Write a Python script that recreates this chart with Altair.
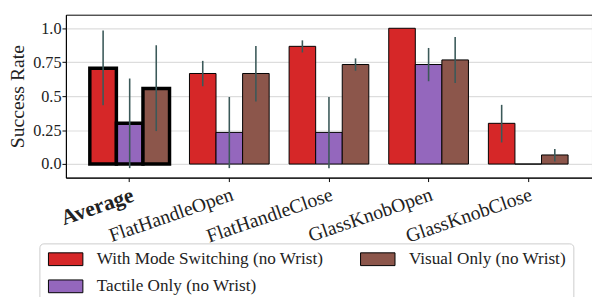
import altair as alt
import pandas as pd

categories = ["Average", "FlatHandleOpen", "FlatHandleClose", "GlassKnobOpen", "GlassKnobClose"]
conditions = ["With Mode Switching (no Wrist)", "Tactile Only (no Wrist)", "Visual Only (no Wrist)"]
colors = {"With Mode Switching (no Wrist)": "#d62728",
          "Tactile Only (no Wrist)": "#9467bd",
          "Visual Only (no Wrist)": "#8c564b"}

mode_vals = [0.706, 0.667, 0.867, 1.0, 0.30]
mode_lo = [0.434, 0.573, 0.822, 1.0, 0.159]
mode_hi = [0.983, 0.76, 0.911, 1.0, 0.436]
tactile_vals = [0.30, 0.233, 0.233, 0.733, 0.0]
tactile_lo = [-0.03, -0.03, -0.03, 0.61, 0.0]
tactile_hi = [0.63, 0.494, 0.494, 0.855, 0.0]
visual_vals = [0.557, 0.667, 0.733, 0.767, 0.067]
visual_lo = [0.243, 0.46, 0.687, 0.597, 0.019]
visual_hi = [0.875, 0.87, 0.778, 0.935, 0.11]

series = {
    conditions[0]: (mode_vals, mode_lo, mode_hi),
    conditions[1]: (tactile_vals, tactile_lo, tactile_hi),
    conditions[2]: (visual_vals, visual_lo, visual_hi),
}
rows = []
for cond, (v, lo, hi) in series.items():
    for i, cat in enumerate(categories):
        rows.append({"category": cat, "condition": cond, "value": v[i],
                     "lo": lo[i], "hi": hi[i],
                     "sw": 3.5 if cat == "Average" else 1.0})
df = pd.DataFrame(rows)

FONT = "Liberation Serif"

x_enc = alt.X("category:N", sort=categories, title=None,
              scale=alt.Scale(paddingInner=0.2, paddingOuter=0.24),
              axis=alt.Axis(labelAngle=341, labelAlign="right", labelBaseline="top",
                            labelFontSize=alt.expr("datum.value == 'Average' ? 22 : 20"),
                            labelPadding=3, tickSize=4,
                            labelFontWeight=alt.expr("datum.value == 'Average' ? 'bold' : 'normal'")))
xoff = alt.XOffset("condition:N", sort=conditions, scale=alt.Scale(paddingInner=0, paddingOuter=0))
y_scale = alt.Scale(domain=[-0.1, 1.1], nice=False, zero=False)

bars = alt.Chart(df).mark_bar(stroke="black").encode(
    x=x_enc,
    xOffset=xoff,
    y=alt.Y("value:Q", scale=y_scale, title="Success Rate",
            axis=alt.Axis(values=[0, 0.25, 0.5, 0.75, 1.0], format=".2~f",
                          labelExpr="datum.value == 0 ? '0.0' : datum.value == 1 ? '1.0' : datum.label",
                          tickSize=4, labelPadding=1, labelFontSize=16.5,
                          titleFontSize=20, titleFontWeight="normal", titlePadding=5,
                          grid=True, gridColor="#dddddd", gridWidth=1.2)),
    y2=alt.datum(0),
    fill=alt.Color("condition:N",
                   scale=alt.Scale(domain=conditions, range=[colors[c] for c in conditions]),
                   legend=alt.Legend(title=None, orient="none", legendX=-27, legendY=233,
                                     columns=2, columnPadding=35, rowPadding=9,
                                     symbolType="M-2.7,-1H2.7V1H-2.7Z", symbolSize=169,
                                     symbolOffset=11,
                                     symbolStrokeColor="black", symbolStrokeWidth=1,
                                     symbolOpacity=1,
                                     labelFont=FONT, labelFontSize=17.5, labelColor="#222222",
                                     labelOffset=23, labelLimit=400,
                                     padding=7, strokeColor="#cccccc", cornerRadius=4,
                                     fillColor="white")),
    strokeWidth=alt.StrokeWidth("sw:Q", scale=None, legend=None),
)

errs = alt.Chart(df).mark_rule(color="#3b5959", strokeWidth=1.6).encode(
    x=alt.X("category:N", sort=categories),
    xOffset=xoff,
    y=alt.Y("lo:Q", scale=y_scale),
    y2="hi:Q",
)

chart = alt.layer(bars, errs).properties(
    width=536, height=166,
    autosize=alt.AutoSizeParams(type="none"),
    padding={"left": 59, "top": 4, "right": 0, "bottom": 130},
).configure(
    font=FONT
).configure_view(
    stroke="black", strokeWidth=1
).configure_axis(
    labelFont=FONT, titleFont=FONT, labelColor="#222222", titleColor="#222222",
    domainColor="black", tickColor="black", domainWidth=1, tickWidth=1
).configure_axisX(grid=False).configure_legend(
    labelFont=FONT
)

chart.save("out.html", embed_options={"renderer": "svg", "actions": False})
